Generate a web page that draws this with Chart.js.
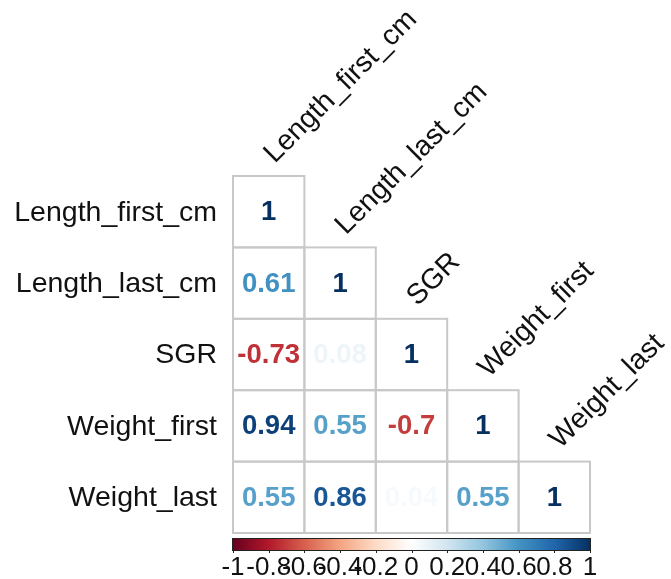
<!DOCTYPE html>
<html>
<head>
<meta charset="utf-8">
<script src="https://cdn.jsdelivr.net/npm/chart.js@4.4.1/dist/chart.umd.min.js"></script>
<style>
  html, body { margin: 0; padding: 0; background: #ffffff; }
  #wrap { width: 671px; height: 579px; }
</style>
</head>
<body>
<div id="wrap"><canvas id="corr" width="671" height="579"></canvas></div>
<script>
// Variable names (rows and columns of the correlation matrix)
const variables = ['Length_first_cm', 'Length_last_cm', 'SGR', 'Weight_first', 'Weight_last'];

// Lower-triangle correlation coefficients, one array per row
const rowLengthFirst = [1];
const rowLengthLast  = [0.61, 1];
const rowSGR         = [-0.73, 0.08, 1];
const rowWeightFirst = [0.94, 0.55, -0.7, 1];
const rowWeightLast  = [0.55, 0.86, 0.04, 0.55, 1];
const matrixRows = [rowLengthFirst, rowLengthLast, rowSGR, rowWeightFirst, rowWeightLast];

// Colour legend ticks
const legendTicks = [-1, -0.8, -0.6, -0.4, -0.2, 0, 0.2, 0.4, 0.6, 0.8, 1];
const legendTickLabels = ['-1', '-0.8', '-0.6', '-0.4', '-0.2', '0', '0.2', '0.4', '0.6', '0.8', '1'];

// Diverging red-white-blue palette
const palette = ['#67001F', '#B2182B', '#D6604D', '#F4A582', '#FDDBC7', '#FFFFFF',
                 '#D1E5F0', '#92C5DE', '#4393C3', '#2166AC', '#053061'];

function hexToRgb(h) {
  return [parseInt(h.slice(1, 3), 16), parseInt(h.slice(3, 5), 16), parseInt(h.slice(5, 7), 16)];
}
function colourFor(v) {
  const t = Math.max(0, Math.min(1, (v + 1) / 2)) * (palette.length - 1);
  const i = Math.min(palette.length - 2, Math.floor(t));
  const f = t - i;
  const a = hexToRgb(palette[i]), b = hexToRgb(palette[i + 1]);
  const c = a.map((x, k) => Math.round(x + (b[k] - x) * f));
  return 'rgb(' + c.join(',') + ')';
}

const FONT = 'Arial, "Liberation Sans", sans-serif';

// One floating-bar dataset per row: each cell spans [row, row + 1] on the y scale
const datasets = matrixRows.map((row, r) => ({
  label: variables[r],
  data: variables.map((_, c) => (c < row.length ? [r, r + 1] : null)),
  values: variables.map((_, c) => (c < row.length ? row[c] : null)),
  backgroundColor: '#ffffff',
  borderWidth: 0,
  grouped: false,
  barPercentage: 1,
  categoryPercentage: 1
}));

const corrDecor = {
  id: 'corrDecor',
  afterDatasetsDraw(chart) {
    const ctx = chart.ctx;
    const xs = chart.scales.x, ys = chart.scales.y, cb = chart.scales.cb;
    ctx.save();

    // cell outlines
    ctx.strokeStyle = '#c8c8c8';
    ctx.lineWidth = 2;
    chart.data.datasets.forEach((ds, di) => {
      chart.getDatasetMeta(di).data.forEach((el, ci) => {
        if (ds.values[ci] === null) return;
        const top = Math.min(el.y, el.base), h = Math.abs(el.base - el.y);
        ctx.strokeRect(el.x - el.width / 2, top, el.width, h);
      });
    });

    // coefficients inside the cells
    ctx.font = 'bold 27.5px ' + FONT;
    ctx.textAlign = 'center';
    ctx.textBaseline = 'middle';
    chart.data.datasets.forEach((ds, di) => {
      const meta = chart.getDatasetMeta(di);
      meta.data.forEach((el, ci) => {
        const v = ds.values[ci];
        if (v === null || v === undefined) return;
        ctx.fillStyle = colourFor(v);
        ctx.fillText(String(v), el.x, (el.y + el.base) / 2 + 1);
      });
    });

    // row names on the left
    ctx.font = '28.5px ' + FONT;
    ctx.fillStyle = '#111111';
    ctx.textAlign = 'right';
    ctx.textBaseline = 'middle';
    variables.forEach((name, r) => {
      ctx.fillText(name, xs.left - 16, ys.getPixelForValue(r + 0.5) + 1);
    });

    // column names, rotated along the diagonal
    ctx.textAlign = 'left';
    ctx.textBaseline = 'alphabetic';
    variables.forEach((name, c) => {
      const cx = xs.getPixelForValue(c);
      const top = ys.getPixelForValue(c);
      ctx.save();
      ctx.translate(cx + 6, top - 12);
      ctx.rotate(-Math.PI / 4);
      ctx.fillText(name, 0, 0);
      ctx.restore();
    });

    // colour legend bar
    const x0 = cb.getPixelForValue(-1), x1 = cb.getPixelForValue(1);
    const yTop = 539, yBot = 550;
    const grad = ctx.createLinearGradient(x0, 0, x1, 0);
    palette.forEach((col, i) => grad.addColorStop(i / (palette.length - 1), col));
    ctx.fillStyle = grad;
    ctx.fillRect(x0, yTop, x1 - x0, yBot - yTop);
    ctx.strokeStyle = '#222222';
    ctx.lineWidth = 1;
    ctx.strokeRect(x0 - 0.5, yTop - 0.5, x1 - x0 + 1, yBot - yTop + 1);

    // legend ticks and labels
    ctx.beginPath();
    legendTicks.forEach(t => {
      const px = Math.round(cb.getPixelForValue(t)) + 0.5;
      ctx.moveTo(px, yBot);
      ctx.lineTo(px, yBot + 3);
    });
    ctx.stroke();
    ctx.font = '26px ' + FONT;
    ctx.fillStyle = '#111111';
    ctx.textAlign = 'center';
    ctx.textBaseline = 'alphabetic';
    legendTicks.forEach((t, i) => {
      ctx.fillText(legendTickLabels[i], cb.getPixelForValue(t), 575);
    });

    ctx.restore();
  }
};

new Chart(document.getElementById('corr'), {
  type: 'bar',
  data: { labels: variables, datasets: datasets },
  options: {
    responsive: false,
    devicePixelRatio: 1,
    animation: false,
    layout: { padding: { left: 233, right: 81, top: 176, bottom: 46 } },
    plugins: { legend: { display: false }, tooltip: { enabled: false } },
    scales: {
      x: { type: 'category', offset: true, display: false, grid: { display: false } },
      y: { type: 'linear', min: 0, max: 5, reverse: true, display: false },
      cb: { type: 'linear', axis: 'x', position: 'bottom', min: -1, max: 1, offset: false,
            display: false, grid: { offset: false } }
    }
  },
  plugins: [corrDecor]
});
</script>
</body>
</html>
